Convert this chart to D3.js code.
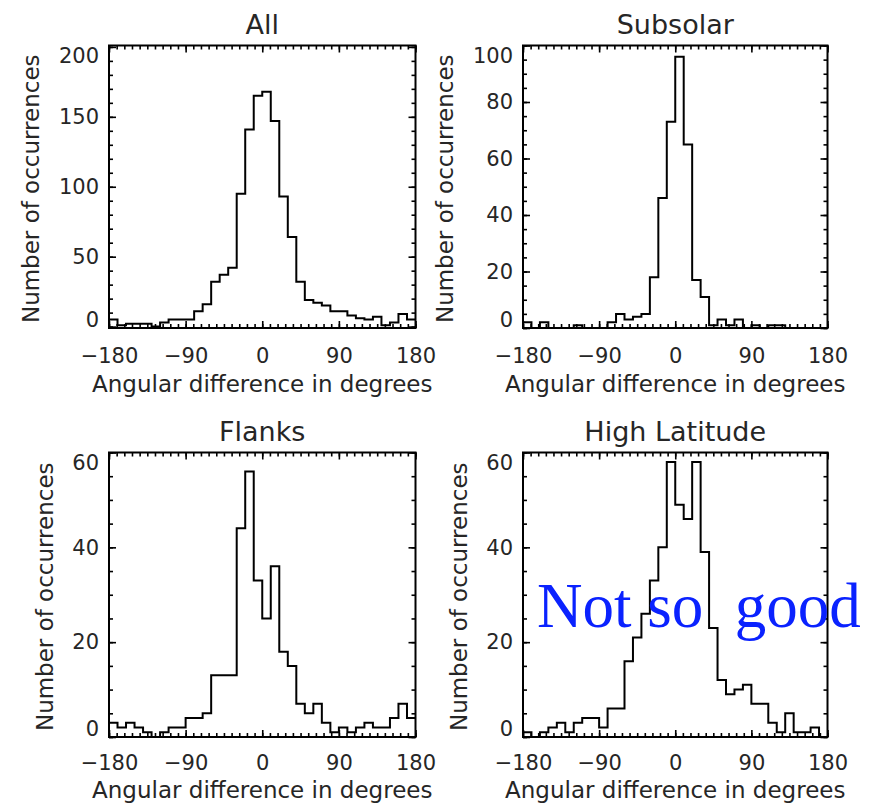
<!DOCTYPE html>
<html><head><meta charset="utf-8">
<script src="https://cdn.jsdelivr.net/npm/d3@7"></script>
<style>
html,body{margin:0;padding:0;background:#fff;}
svg{display:block;}
text{font-family:"DejaVu Sans",sans-serif;fill:#262626;}
</style></head><body>
<svg id="chart" width="878" height="803"></svg>
<script>
// ---- data ----
const binCenters = [-175,-165,-155,-145,-135,-125,-115,-105,-95,-85,-75,-65,-55,-45,-35,-25,-15,-5,
                    5,15,25,35,45,55,65,75,85,95,105,115,125,135,145,155,165,175];
const panelTitles = ["All","Subsolar","Flanks","High Latitude"];
const countsAll      = [5,1,2,2,2,0,3,5,5,5,11,16,32,37,42,95,141,165,168,147,93,64,32,19,17,15,11,11,8,6,5,7,1,3,9,5];
const countsSubsolar = [2,0,2,0,0,0,1,0,0,0,2,5,3,4,5,18,46,73,96,65,17,11,1,3,1,3,0,1,0,1,1,0,0,0,0,0];
const countsFlanks   = [3,2,3,2,1,0,1,2,2,4,4,5,13,13,13,44,56,33,25,36,18,15,7,5,7,3,1,2,1,2,3,2,2,4,7,4];
const countsHighLat  = [1,0,1,2,3,1,3,4,4,2,6,6,16,21,26,33,40,58,49,46,58,39,23,12,9,10,11,7,7,3,1,5,1,1,2,0];
const xTickValues = [-180,-90,0,90,180];
const xTickLabels = ["\u2212180","\u221290","0","90","180"];
const yTicksAll = [0,50,100,150,200];
const yTicksSubsolar = [0,20,40,60,80,100];
const yTicksFlanks = [0,20,40,60];
const yTicksHighLat = [0,20,40,60];
const xLabel = "Angular difference in degrees";
const yLabel = "Number of occurrences";
const stampText = "Not so  good";

// ---- layout ----
const svg = d3.select("#chart");
const cols = [{l:109, r:415.5}, {l:523, r:827.5}];
const rows = [{t:45.5, b:328, tickPad:20.5, xTitle:391.5}, {t:452.5, b:737, tickPad:18.5, xTitle:798}];
const yTitleX = [[38.5, 452.5],[52.5, 466.5]];

const panels = [
  {title:panelTitles[0], counts:countsAll, yTicks:yTicksAll, yDom:[-1,201], yMinor:10, r:0, c:0},
  {title:panelTitles[1], counts:countsSubsolar, yTicks:yTicksSubsolar, yDom:[0,100], yMinor:5, r:0, c:1},
  {title:panelTitles[2], counts:countsFlanks, yTicks:yTicksFlanks, yDom:[0,60], yMinor:5, r:1, c:0},
  {title:panelTitles[3], counts:countsHighLat, yTicks:yTicksHighLat, yDom:[0,60], yMinor:5, r:1, c:1}
];

const MAJ = 7, MIN = 4;

panels.forEach(p => {
  const col = cols[p.c], row = rows[p.r];
  const x = d3.scaleLinear().domain([-180,180]).range([col.l, col.r]);
  const y = d3.scaleLinear().domain(p.yDom).range([row.b, row.t]);
  const g = svg.append("g");
  const xMinor = d3.range(-180, 180.001, 9);
  const yMinor = d3.range(0, p.yTicks[p.yTicks.length-1] + 0.001, p.yMinor);

  const strip = sel => sel.call(s => s.select(".domain").remove())
      .call(s => s.selectAll("line").attr("stroke","#000").attr("stroke-width",1.6));

  // minor ticks on all sides
  g.append("g").attr("transform",`translate(0,${row.b})`)
    .call(d3.axisBottom(x).tickValues(xMinor).tickSize(-MIN).tickFormat("")).call(strip);
  g.append("g").attr("transform",`translate(0,${row.t})`)
    .call(d3.axisTop(x).tickValues(xMinor).tickSize(-MIN).tickFormat("")).call(strip);
  g.append("g").attr("transform",`translate(${col.l},0)`)
    .call(d3.axisLeft(y).tickValues(yMinor).tickSize(-MIN).tickFormat("")).call(strip);
  g.append("g").attr("transform",`translate(${col.r},0)`)
    .call(d3.axisRight(y).tickValues(yMinor).tickSize(-MIN).tickFormat("")).call(strip);

  // major ticks
  const xb = g.append("g").attr("transform",`translate(0,${row.b})`)
    .call(d3.axisBottom(x).tickValues(xTickValues).tickSize(-MAJ).tickPadding(row.tickPad)
      .tickFormat((d,i) => xTickLabels[i])).call(strip);
  xb.selectAll("text").attr("font-size",21).attr("font-family","DejaVu Sans").attr("fill","#262626");
  g.append("g").attr("transform",`translate(0,${row.t})`)
    .call(d3.axisTop(x).tickValues(xTickValues).tickSize(-MAJ).tickFormat("")).call(strip);
  const yl = g.append("g").attr("transform",`translate(${col.l},0)`)
    .call(d3.axisLeft(y).tickValues(p.yTicks).tickSize(-MAJ).tickPadding(10).tickFormat(d3.format("d"))).call(strip);
  yl.selectAll("text").attr("font-size",21).attr("font-family","DejaVu Sans").attr("fill","#262626");
  // end labels pushed inside the axis span
  const ymin = p.yTicks[0], ymax = p.yTicks[p.yTicks.length-1];
  yl.selectAll(".tick").filter(d => d === ymin).select("text").attr("y", (row.b - 8.5) - y(ymin));
  yl.selectAll(".tick").filter(d => d === ymax).select("text").attr("y", (row.t + 10.5) - y(ymax));
  g.append("g").attr("transform",`translate(${col.r},0)`)
    .call(d3.axisRight(y).tickValues(p.yTicks).tickSize(-MAJ).tickFormat("")).call(strip);

  // histogram (step)
  const pts = [[-180, p.counts[0]]].concat(binCenters.map((c,i)=>[c, p.counts[i]]), [[180, p.counts[p.counts.length-1]]]);
  const line = d3.line().x(d=>x(d[0])).y(d=>y(d[1])).curve(d3.curveStep);
  g.append("path").attr("d", line(pts)).attr("fill","none").attr("stroke","#000")
    .attr("stroke-width",2).attr("stroke-linejoin","miter");

  // box
  g.append("rect").attr("x",col.l).attr("y",row.t).attr("width",col.r-col.l).attr("height",row.b-row.t)
    .attr("fill","none").attr("stroke","#000").attr("stroke-width",2);

  // titles
  const cx = (col.l + col.r)/2;
  g.append("text").attr("x",cx).attr("y",row.t - 11.5).attr("text-anchor","middle")
    .attr("font-size",27).text(p.title);
  g.append("text").attr("x",cx).attr("y",row.xTitle).attr("text-anchor","middle")
    .attr("font-size",23).text(xLabel);
  const ty = (row.t + row.b)/2 + 2;
  g.append("text").attr("transform",`translate(${yTitleX[p.r][p.c]},${ty}) rotate(-90)`)
    .attr("text-anchor","middle").attr("font-size",23).text(yLabel);
});

svg.append("text").attr("x",537).attr("y",627)
  .attr("xml:space","preserve").style("white-space","pre")
  .attr("font-family","'Liberation Serif','Times New Roman',serif")
  .style("font-family","'Liberation Serif','Times New Roman',serif")
  .style("fill","#0a22ff").attr("font-size",63).text(stampText);
</script>
</body></html>
